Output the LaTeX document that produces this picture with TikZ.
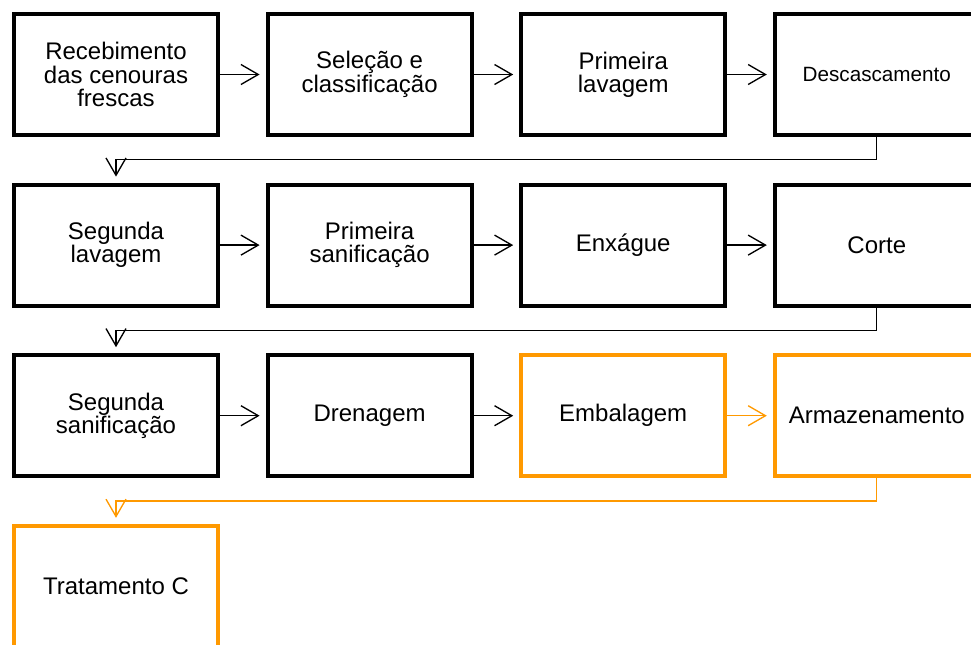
\documentclass[tikz,border=0pt]{standalone}
\usepackage{fontspec}
\setmainfont{Liberation Sans}
\usepackage{tikz}
\usetikzlibrary{arrows.meta,positioning}
\definecolor{laranja}{RGB}{255,153,0}

\tikzset{
  etapa/.style={draw,line width=3pt,minimum width=153pt,minimum height=90.75pt,
    inner sep=2pt,align=center,font=\fontsize{18}{17.5}\selectfont},
  flow/.style={line width=1pt,-{Straight Barb[length=13pt,width=15pt]},shorten >=4.5pt}
}

\begin{document}
\begin{tikzpicture}[node distance=34.2pt]
\useasboundingbox (0,0) rectangle (728.25pt,-483pt);
\node[etapa,anchor=north west] (receb) at (9pt,-9pt) {Recebimento\\das cenouras\\frescas};
\node[etapa,right=of receb] (selec) {Seleção e\\classificação};
\node[etapa,right=of selec] (lav1) {Primeira\\lavagem};
\node[etapa,right=of lav1,font=\fontsize{15.5}{16}\selectfont] (descasc) {Descascamento};
\node[etapa,below=of receb] (lav2) {Segunda\\lavagem};
\node[etapa,right=of lav2] (sanif1) {Primeira\\sanificação};
\node[etapa,right=of sanif1] (enxague) {Enxágue};
\node[etapa,right=of enxague] (corte) {Corte};
\node[etapa,below=of lav2] (sanif2) {Segunda\\sanificação};
\node[etapa,right=of sanif2] (dren) {Drenagem};
\node[etapa,right=of dren,laranja,text=black] (embal) {Embalagem};
\node[etapa,right=of embal,laranja,text=black] (armaz) {Armazenamento};
\node[etapa,below=of sanif2,laranja,text=black] (tratC) {Tratamento C};

\draw[flow] (receb) -- (selec);
\draw[flow] (selec) -- (lav1);
\draw[flow] (lav1) -- (descasc);
\draw[flow] (descasc.south) -- ++(0,-17pt) -| (lav2.north);
\draw[flow] (lav2) -- (sanif1);
\draw[flow] (sanif1) -- (enxague);
\draw[flow] (enxague) -- (corte);
\draw[flow] (corte.south) -- ++(0,-17pt) -| (sanif2.north);
\draw[flow] (sanif2) -- (dren);
\draw[flow] (dren) -- (embal);
\draw[flow,laranja] (embal) -- (armaz);
\draw[flow,laranja] (armaz.south) -- ++(0,-17pt) -| (tratC.north);
\end{tikzpicture}
\end{document}
